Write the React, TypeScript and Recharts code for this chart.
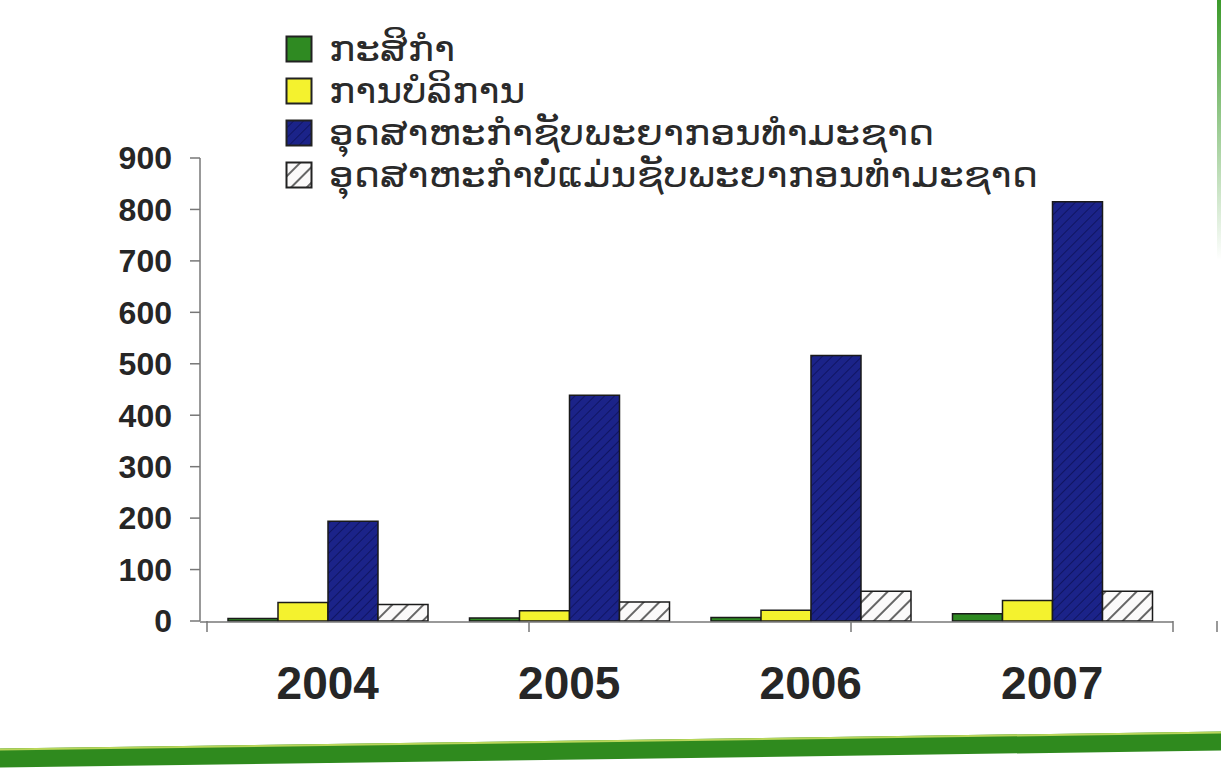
import React from "react";
import { Bar, BarChart, XAxis, YAxis } from "recharts";

const years = ["2004", "2005", "2006", "2007"];
const agriculture = [5, 6, 7, 14];
const services = [36, 20, 21, 40];
const resourceIndustry = [194, 439, 516, 815];
const otherIndustry = [32, 37, 58, 58];
const yTicks = [0, 100, 200, 300, 400, 500, 600, 700, 800, 900];
const boundTicks = [0, 1, 2, 3, 4];

const LABELS = {
  agriculture: "ກະສິກຳ",
  services: "ການບໍລິການ",
  resourceIndustry: "ອຸດສາຫະກຳຊັບພະຍາກອນທຳມະຊາດ",
  otherIndustry: "ອຸດສາຫະກຳບໍ່ແມ່ນຊັບພະຍາກອນທຳມະຊາດ",
};

const COLORS = {
  agriculture: "#2f8a22",
  services: "#f4f22e",
  resourceIndustry: "url(#blueHatch)",
  otherIndustry: "url(#greyHatch)",
};

const data = years.map((year, i) => ({
  year,
  agriculture: agriculture[i],
  services: services[i],
  resourceIndustry: resourceIndustry[i],
  otherIndustry: otherIndustry[i],
}));

const HatchDefs = () => (
  <defs>
    <pattern
      id="blueHatch"
      width="7"
      height="7"
      patternUnits="userSpaceOnUse"
      patternTransform="rotate(45)"
    >
      <rect width="7" height="7" fill="#1b2389" />
      <line x1="0" y1="0" x2="0" y2="7" stroke="#101562" strokeWidth="2" />
    </pattern>
    <pattern
      id="greyHatch"
      width="11"
      height="11"
      patternUnits="userSpaceOnUse"
      patternTransform="rotate(45)"
    >
      <rect width="11" height="11" fill="#fbfafa" />
      <line x1="0" y1="0" x2="0" y2="11" stroke="#666" strokeWidth="4" />
    </pattern>
  </defs>
);

// draws the small downward tick at each category boundary
const BoundTick = (props: any) => {
  const { x, y } = props;
  return (
    <line x1={x} x2={x} y1={y} y2={y + 11} stroke="#777" strokeWidth={1.5} />
  );
};

const keys = Object.keys(LABELS) as (keyof typeof LABELS)[];

const App: React.FC = () => {
  return (
    <div
      style={{
        position: "absolute",
        left: 0,
        top: 0,
        width: 1221,
        height: 778,
        background: "#ffffff",
        overflow: "hidden",
      }}
    >
      {/* legend */}
      <div
        style={{
          position: "absolute",
          left: 285,
          top: 28,
          fontFamily: "'DejaVu Sans', 'Noto Sans', sans-serif",
          fontSize: 35,
          color: "#2a2a2a",
          lineHeight: "42px",
          zIndex: 2,
        }}
      >
        {keys.map((k) => (
          <div
            key={k}
            style={{ display: "flex", alignItems: "center", height: 42 }}
          >
            <svg width={28} height={28} style={{ marginRight: 16 }}>
              <HatchDefs />
              <rect
                x={1.5}
                y={1.5}
                width={25}
                height={25}
                fill={COLORS[k]}
                stroke="#222"
                strokeWidth={2}
              />
            </svg>
            <span
              style={{
                display: "inline-block",
                transform: "scaleX(1.12)",
                transformOrigin: "left center",
                whiteSpace: "nowrap",
              }}
            >
              {LABELS[k]}
            </span>
          </div>
        ))}
      </div>

      <BarChart
        width={1221}
        height={778}
        data={data}
        margin={{ top: 158, right: 48, bottom: 56, left: 0 }}
        barCategoryGap={21}
        barGap={0}
      >
        <HatchDefs />
        <XAxis
          xAxisId="bounds"
          type="number"
          domain={[0, 4]}
          ticks={boundTicks}
          height={1}
          padding={{ left: 7 }}
          axisLine={false}
          tickLine={false}
          tickSize={0}
          tickMargin={0}
          tick={<BoundTick />}
        />
        <XAxis
          xAxisId="cat"
          dataKey="year"
          height={100}
          padding={{ left: 7 }}
          axisLine={{ stroke: "#777", strokeWidth: 1.5 }}
          tickLine={false}
          tickSize={0}
          tickMargin={44}
          tick={{
            fill: "#262626",
            fontSize: 46,
            fontWeight: 700,
            fontFamily: "'Liberation Sans', Arial, sans-serif",
          }}
        />
        <YAxis
          domain={[0, 900]}
          ticks={yTicks}
          width={200}
          interval={0}
          axisLine={{ stroke: "#777", strokeWidth: 1.5 }}
          tickLine={{ stroke: "#777", strokeWidth: 1.5 }}
          tickSize={10}
          tickMargin={18}
          tick={{
            fill: "#262626",
            fontSize: 32,
            fontWeight: 700,
            fontFamily: "'Liberation Sans', Arial, sans-serif",
          }}
        />
        {keys.map((k) => (
          <Bar
            key={k}
            xAxisId="cat"
            dataKey={k}
            fill={COLORS[k]}
            stroke="#1a1a1a"
            strokeWidth={1.5}
            isAnimationActive={false}
          />
        ))}
      </BarChart>

      {/* green page decorations */}
      <div
        style={{
          position: "absolute",
          left: -20,
          top: 740,
          width: 1270,
          height: 17,
          background: "#2f8a1e",
          borderTop: "2px solid #b9d65a",
          transform: "rotate(-0.8deg)",
        }}
      />
      <div
        style={{
          position: "absolute",
          left: 1217,
          top: 0,
          width: 4,
          height: 260,
          background: "linear-gradient(#3b9a2a, rgba(59,154,42,0))",
        }}
      />
    </div>
  );
};

export default App;
